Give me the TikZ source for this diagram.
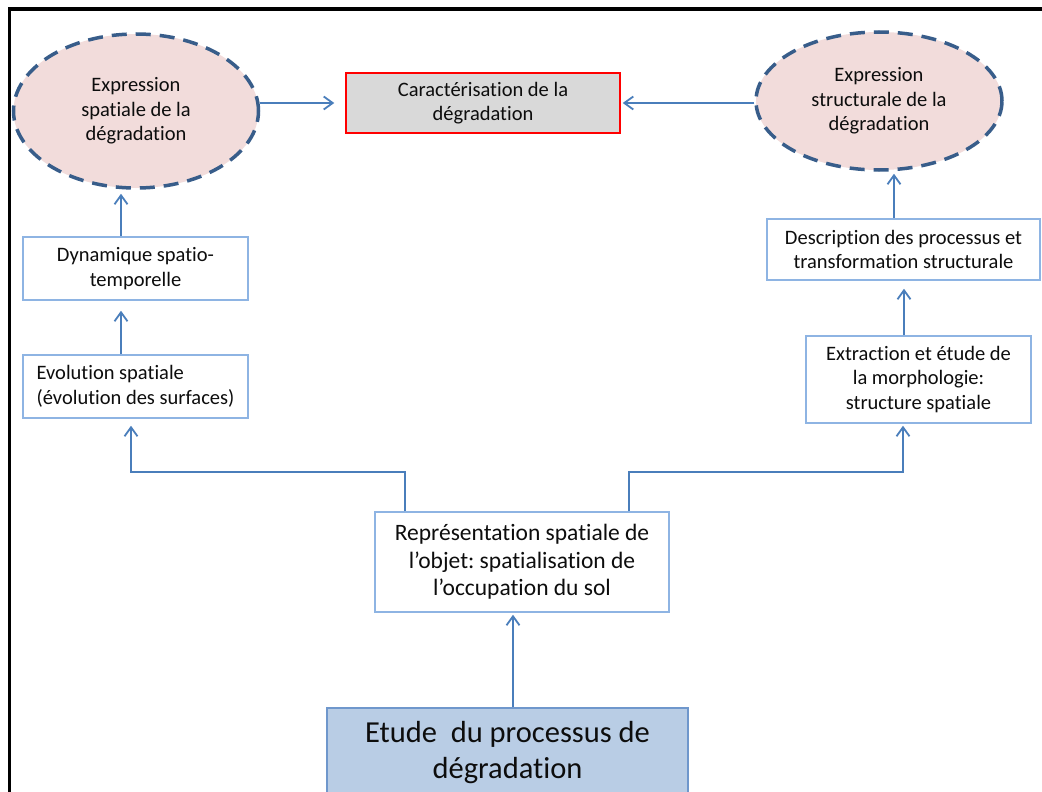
\documentclass[tikz,border=0pt]{standalone}
\usepackage{fontspec}
\setmainfont{Carlito}[Ligatures=NoCommon]
\usetikzlibrary{arrows.meta,shapes.geometric}
\definecolor{arrblue}{HTML}{4A7EBB}
\definecolor{boxblue}{HTML}{8EB4E3}
\definecolor{ellborder}{HTML}{385D8A}
\definecolor{ellfill}{HTML}{F2DCDB}
\definecolor{grayfill}{HTML}{D9D9D9}
\definecolor{etudefill}{HTML}{B9CDE5}
\definecolor{etudeborder}{HTML}{6F97CC}
\definecolor{txt}{HTML}{0D0D0D}
\frenchspacing
\tikzset{
  basefont/.style={font=\fontsize{20.5}{24.5}\selectfont, text=txt, inner sep=0pt},
  plainbox/.style={basefont, draw=boxblue, line width=1.5pt, fill=white, rectangle, align=center},
  ellnode/.style={basefont, ellipse, draw=ellborder, fill=ellfill, line width=3.5pt, dash pattern=on 15pt off 9pt, align=center},
  carbox/.style={basefont, draw=red, fill=grayfill, line width=1.5pt, align=center},
  etudebox/.style={font=\fontsize{30.5}{36}\selectfont, text=txt, draw=etudeborder, fill=etudefill, line width=2pt, align=center},
  repbox/.style={plainbox, font=\fontsize{23.5}{27.5}\selectfont},
  arr/.style={draw=arrblue, line width=1.8pt, -{Straight Barb[length=9pt,width=13pt,line width=1.8pt]}},
}
\begin{document}
\begin{tikzpicture}[x=1pt,y=-1pt]
\useasboundingbox (0,0) rectangle (1042,792);
\clip (0,0) rectangle (1042,792);
\fill[white] (0,0) rectangle (1042,792);
\draw[black, line width=3.2pt] (9.5,9) rectangle (1070,820);

\node[ellnode, minimum width=245pt, minimum height=154pt] (ell1) at (136,111) {Expression\\spatiale de la\\dégradation};
\node[ellnode, minimum width=246pt, minimum height=138pt] (ell2) at (879,101) {Expression\\structurale de la\\dégradation};
\node[carbox, minimum width=274pt, minimum height=60pt] (car) at (483,103) {Caractérisation de la\\dégradation};

\node[plainbox, minimum width=225pt, minimum height=63pt] (dyn) at (135.5,268.5) {Dynamique spatio-\\temporelle};
\node[plainbox, minimum width=225pt, minimum height=63pt, align=left] (evo) at (135.5,386.5) {Evolution spatiale\\(évolution des surfaces)};

\node[plainbox, minimum width=273pt, minimum height=61pt] (desc) at (903.5,249.5) {Description des processus et\\transformation structurale};
\node[plainbox, minimum width=225pt, minimum height=87pt] (ext) at (918.5,379.5) {Extraction et étude de\\la morphologie:\\structure spatiale};

\node[repbox, minimum width=294pt, minimum height=100pt] (rep) at (522,562) {\frenchspacing Représentation spatiale de\\l’objet: spatialisation de\\l’occupation du sol};
\node[etudebox, minimum width=361pt, minimum height=90pt] (etude) at (507.5,753) {Etude\ \ du processus de\\dégradation};

% connectors
\draw[arr, shorten >=11pt] (ell1.east |- car.west) -- (car.west);
\draw[arr, shorten >=2pt] (ell2.west |- car.east) -- (car.east);
\draw[arr, shorten >=4pt] ([xshift=-14.5pt]dyn.north) -- ([xshift=-14.5pt]dyn.north |- ell1.south);
\draw[arr, shorten >=10pt] ([xshift=-14.5pt]evo.north) -- ([xshift=-14.5pt]dyn.south);
\draw[arr, shorten >=2pt] ([xshift=-9.5pt]desc.north) -- ([xshift=-9.5pt]desc.north |- ell2.south);
\draw[arr, shorten >=8pt] ([xshift=-14.5pt]ext.north) -- ([xshift=-14.5pt]ext.north |- desc.south);
\draw[arr, shorten >=7pt] ([xshift=-117pt]rep.north) -- ++(0,-39) -| ([xshift=-4.5pt]evo.south);
\draw[arr, shorten >=2pt] ([xshift=107pt]rep.north) -- ++(0,-39) -| ([xshift=-15.5pt]ext.south);
\draw[arr, shorten >=2pt] ([xshift=5.5pt]etude.north) -- ([xshift=5.5pt]etude.north |- rep.south);
\end{tikzpicture}
\end{document}
